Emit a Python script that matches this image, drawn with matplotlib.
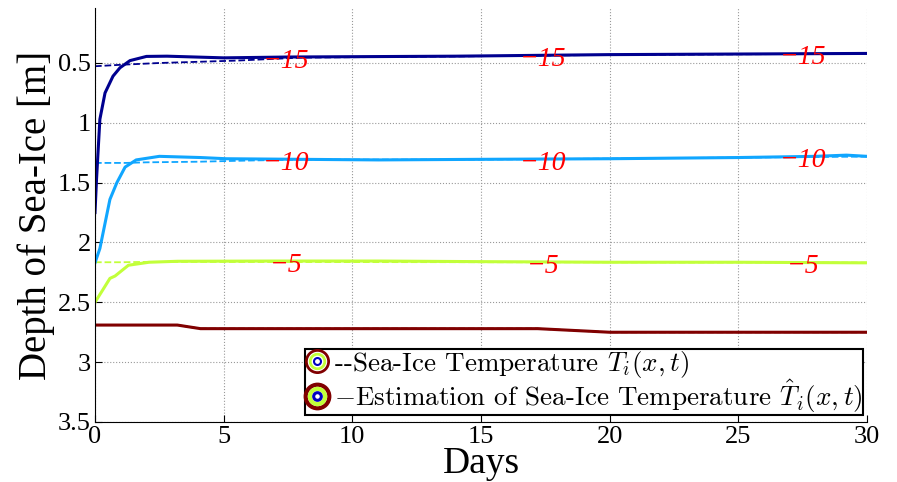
import matplotlib
matplotlib.use("Agg")
import numpy as np
import matplotlib.pyplot as plt
from matplotlib.lines import Line2D
from matplotlib.legend_handler import HandlerTuple

plt.rcParams['font.family'] = ['Liberation Serif', 'DejaVu Serif']
plt.rcParams['mathtext.fontset'] = 'cm'

# contour -15 (estimate = solid, true = dashed)
x15_est = [0, 0.06, 0.19, 0.39, 0.7, 0.97, 1.36, 2.0, 2.8, 5, 7.5, 14, 20, 25, 30]
y15_est = [1.75, 1.47, 0.97, 0.75, 0.61, 0.54, 0.48, 0.445, 0.443, 0.457, 0.45, 0.443, 0.43, 0.425, 0.42]
x15_true = [0, 1, 2.5, 4, 5.5, 7, 8, 14, 20, 30]
y15_true = [0.527, 0.515, 0.50, 0.49, 0.48, 0.465, 0.455, 0.445, 0.432, 0.422]

# contour -10
x10_est = [0, 0.19, 0.58, 0.85, 1.17, 1.6, 2.5, 4.1, 5.1, 8, 11, 15, 20, 25, 28, 29.2, 30]
y10_est = [2.17, 2.05, 1.64, 1.50, 1.37, 1.31, 1.28, 1.29, 1.30, 1.305, 1.31, 1.305, 1.30, 1.29, 1.28, 1.27, 1.28]
x10_true = [0, 1.2, 2, 4, 6, 8, 15, 30]
y10_true = [1.335, 1.335, 1.33, 1.325, 1.315, 1.307, 1.307, 1.282]

# contour -5
x5_est = [0, 0.32, 0.58, 0.78, 1.3, 2.1, 3.2, 7, 11, 15, 20, 25, 30]
y5_est = [2.50, 2.39, 2.30, 2.28, 2.19, 2.165, 2.157, 2.155, 2.155, 2.16, 2.165, 2.165, 2.17]
x5_true = [0, 1, 2, 30]
y5_true = [2.165, 2.165, 2.162, 2.168]

# contour 0
x0 = [0, 3.2, 4.1, 17.2, 20.0, 30]
y0 = [2.69, 2.69, 2.72, 2.72, 2.75, 2.75]

label_days = [7.42, 17.4, 27.5]
levels = ['\u221215', '\u221210', '\u22125']

c15 = '#00008F'
c10 = '#10A6FF'
c5 = '#C2FF3A'
c0 = '#800000'

fig = plt.figure(figsize=(8.97, 4.82), dpi=100)
ax = fig.add_axes([0.1059, 0.1245, 0.8607, 0.859])

ax.plot(x15_true, y15_true, '--', color=c15, lw=1.3)
ax.plot(x10_true, y10_true, '--', color=c10, lw=1.3)
ax.plot(x5_true, y5_true, '--', color=c5, lw=1.3)
ax.plot(x0, y0, '--', color=c0, lw=1.3)

ax.plot(x15_est, y15_est, '-', color=c15, lw=2.2)
ax.plot(x10_est, y10_est, '-', color=c10, lw=2.2)
ax.plot(x5_est, y5_est, '-', color=c5, lw=2.2)
ax.plot(x0, y0, '-', color=c0, lw=2.2)

for lev, xs, ys in [(levels[0], x15_est, y15_est), (levels[1], x10_est, y10_est), (levels[2], x5_est, y5_est)]:
    for d in label_days:
        yv = np.interp(d, xs, ys)
        ax.text(d, yv + 0.035, lev, color='red', fontsize=20, style='italic',
                ha='center', va='center')

ax.set_xlim(0, 30)
ax.set_ylim(3.5, 0.04)
ax.set_xticks([0, 5, 10, 15, 20, 25, 30])
ax.set_yticks([0.5, 1, 1.5, 2, 2.5, 3, 3.5])
ax.set_yticklabels(['0.5', '1', '1.5', '2', '2.5', '3', '3.5'])
ax.grid(True, linestyle=':', color='#999999', lw=0.8)
ax.spines['top'].set_visible(False)
ax.spines['right'].set_visible(False)
ax.tick_params(direction='in', labelsize=19, length=5, pad=3)
ax.set_xlabel('Days', fontsize=27, labelpad=-1)
ax.set_ylabel('Depth of Sea-Ice [m]', fontsize=28, labelpad=2)

h1 = (Line2D([], [], ls='none', marker='o', ms=16, mfc='white', mec=c0, mew=2),
      Line2D([], [], ls='none', marker='o', ms=10.5, mfc='white', mec=c5, mew=2),
      Line2D([], [], ls='none', marker='o', ms=5, mfc='white', mec='#0000C0', mew=1.5))
h2 = (Line2D([], [], ls='none', marker='o', ms=17, mfc='white', mec=c0, mew=3),
      Line2D([], [], ls='none', marker='o', ms=11, mfc='white', mec=c5, mew=3),
      Line2D([], [], ls='none', marker='o', ms=5.5, mfc='white', mec='#0000C0', mew=2.2))
leg = ax.legend([h1, h2],
                ['--Sea-Ice Temperature $T_i(x,t)$',
                 '$-$Estimation of Sea-Ice Temperature $\\hat{T}_i(x,t)$'],
                handler_map={tuple: HandlerTuple(ndivide=1, pad=0)},
                loc='lower right', bbox_to_anchor=(0.995, 0.017),
                prop={'family': ['cmr10', 'DejaVu Serif'], 'size': 19.5},
                handlelength=0.9, handletextpad=0.2,
                borderpad=0.0, labelspacing=-0.08, borderaxespad=0,
                frameon=True, fancybox=False, framealpha=1)
leg.get_frame().set_edgecolor('black')
leg.get_frame().set_linewidth(1.5)

fig.savefig('out.png', dpi=100)
